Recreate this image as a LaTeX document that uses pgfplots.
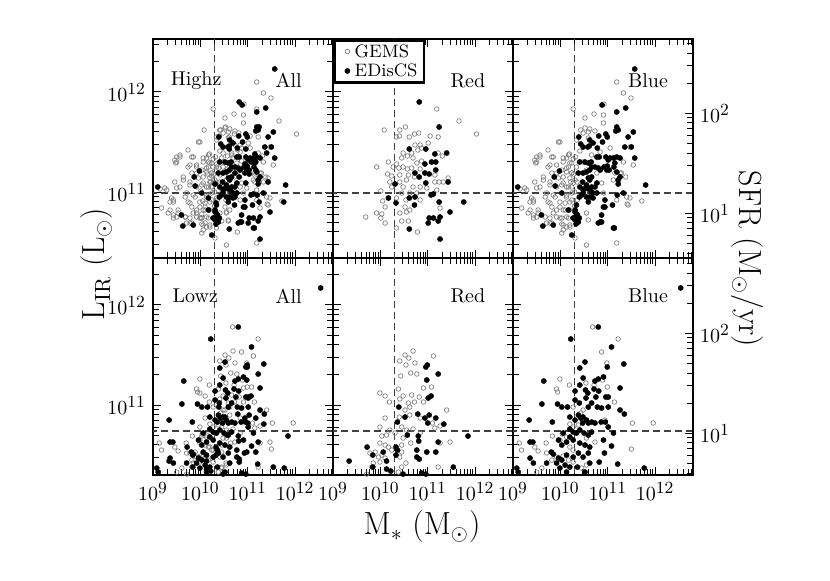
\documentclass[border=0pt]{standalone}
\usepackage{pgfplots}
\usepackage{pgfplotstable}
\pgfplotsset{compat=1.18}

% ---------- high-z, red ----------
\pgfplotstableread{
m l
10.82 11.90
11.24 11.65
10.61 11.43
10.96 11.43
11.15 11.38
11.40 11.39
11.08 11.30
11.17 11.30
10.94 11.28
11.17 11.22
10.73 11.19
10.94 11.19
11.03 11.18
10.82 11.15
11.43 11.10
10.96 11.09
10.31 11.08
11.07 10.97
11.12 10.98
10.17 10.94
10.73 10.95
10.61 10.94
11.76 10.90
11.24 10.90
10.72 10.87
11.47 10.80
11.03 10.74
11.12 10.74
11.26 10.75
11.01 10.69
11.22 10.71
10.61 10.63
11.26 10.53
10.33 10.89
}\hrE
\pgfplotstableread{
m l
11.19 11.83
11.66 11.71
12.03 11.58
10.08 11.62
10.41 11.62
10.53 11.65
10.34 11.55
10.40 11.56
10.61 11.55
10.72 11.58
10.81 11.59
11.05 11.56
11.22 11.55
10.73 11.47
10.84 11.47
11.01 11.49
10.48 11.39
10.57 11.36
10.66 11.39
10.79 11.42
10.87 11.44
11.22 11.39
11.31 11.36
10.45 11.34
10.69 11.34
10.77 11.29
10.87 11.31
9.92 11.25
10.17 11.30
10.27 11.25
10.34 11.28
10.39 11.24
10.48 11.25
10.57 11.23
10.66 11.24
10.84 11.23
11.15 11.17
10.15 11.18
10.24 11.16
10.41 11.17
10.59 11.17
10.72 11.15
10.55 11.12
10.20 11.10
10.41 11.10
11.15 11.10
11.24 11.10
11.33 11.10
11.43 11.14
10.24 11.05
10.48 11.05
10.69 11.05
10.84 11.05
10.98 11.04
10.01 11.01
10.45 10.99
10.62 10.99
10.77 10.99
11.19 11.02
10.05 10.91
10.34 10.94
10.54 10.92
10.84 10.92
10.10 10.85
10.52 10.85
10.62 10.82
11.26 10.84
9.92 10.79
10.03 10.78
10.41 10.79
10.55 10.80
9.69 10.75
10.01 10.74
10.45 10.71
10.59 10.71
10.10 10.69
10.34 10.64
10.78 10.60
}\hrG
% ---------- high-z, blue ----------
\pgfplotstableread{
m l
11.57 12.23
10.88 11.87
11.19 11.80
11.38 11.84
10.39 11.55
10.62 11.52
10.81 11.56
10.96 11.58
10.99 11.55
11.19 11.65
11.22 11.62
11.17 11.61
11.43 11.55
11.54 11.60
10.43 11.48
10.58 11.45
10.69 11.49
10.78 11.44
10.89 11.50
11.36 11.45
11.50 11.45
10.82 11.35
10.96 11.35
11.05 11.34
11.19 11.35
11.26 11.34
11.57 11.34
10.52 11.30
10.59 11.29
10.65 11.30
10.73 11.25
10.62 11.22
10.48 11.19
10.84 11.22
10.92 11.25
10.99 11.26
11.03 11.22
11.13 11.25
11.19 11.20
10.38 11.19
9.98 11.21
9.87 11.15
10.59 11.14
10.66 11.15
11.26 11.15
10.47 11.10
10.55 11.07
10.41 11.05
10.50 11.03
10.59 11.03
10.66 11.05
10.73 11.05
10.48 10.99
10.55 10.95
10.62 10.95
10.69 10.99
10.40 10.95
10.03 10.99
11.22 11.08
11.20 10.97
11.80 11.07
10.94 10.92
11.10 10.87
10.94 10.85
10.59 10.90
10.31 10.82
10.36 10.77
10.40 10.74
10.31 10.72
10.38 10.70
10.87 10.77
10.80 10.69
10.87 10.70
9.63 10.66
9.85 10.67
10.24 10.57
11.14 10.64
9.60 10.77
9.89 11.06
9.10 11.05
10.48 11.45
10.61 11.46
10.41 11.30
10.66 11.25
10.55 11.20
10.80 11.24
10.98 11.22
10.77 11.35
11.01 11.32
11.12 11.34
10.62 11.12
10.77 11.09
10.48 11.02
10.66 11.00
10.45 10.97
10.69 10.94
10.77 10.99
10.34 10.87
10.31 10.80
10.34 10.75
10.27 10.74
10.91 10.85
10.84 10.70
11.12 10.64
11.33 10.99
11.22 11.12
11.15 11.29
10.17 10.82
10.34 10.78
10.33 10.68
}\hbE
\pgfplotstableread{
m l
11.19 12.10
11.33 11.99
11.49 11.94
10.92 11.88
10.71 11.78
10.27 11.83
10.91 11.69
10.52 11.64
10.62 11.63
10.73 11.61
10.43 11.62
9.99 11.50
10.34 11.52
10.59 11.54
11.47 11.45
9.74 11.42
9.85 11.35
10.19 11.38
10.41 11.41
9.57 11.35
9.46 11.32
10.27 11.33
10.06 11.30
10.13 11.34
9.92 11.27
9.74 11.25
10.17 11.25
10.24 11.29
10.34 11.25
11.33 11.30
11.54 11.27
10.03 11.22
10.13 11.20
10.24 11.19
9.82 11.19
9.64 11.15
9.96 11.14
10.06 11.15
10.20 11.14
10.31 11.12
9.46 11.10
11.26 11.19
11.38 11.15
9.57 11.05
9.78 11.07
9.92 11.05
10.03 11.07
10.13 11.05
10.24 11.05
9.25 11.04
9.15 11.03
9.39 10.94
9.36 10.90
9.68 10.95
9.85 10.97
10.13 10.97
10.24 10.99
9.74 10.90
9.99 10.90
10.10 10.89
10.20 10.90
9.82 10.85
9.92 10.82
10.06 10.82
10.19 10.82
9.53 10.79
9.43 10.77
9.68 10.75
9.78 10.74
9.92 10.75
10.03 10.74
10.13 10.75
9.71 10.69
9.82 10.69
10.03 10.68
10.13 10.65
10.20 10.67
10.55 10.79
10.59 10.72
11.40 10.95
11.41 10.88
11.72 10.91
11.19 10.92
10.91 10.99
10.87 11.09
11.12 11.12
10.77 11.19
10.55 11.22
10.48 11.30
10.66 11.37
10.84 11.40
11.05 11.44
10.52 11.74
10.91 11.77
11.19 10.49
10.55 10.47
10.31 10.54
10.06 10.62
9.50 11.35
9.48 11.29
9.29 11.02
9.43 10.92
9.18 10.84
9.32 10.79
9.50 10.75
10.30 11.00
10.35 11.10
10.28 11.18
10.36 10.92
10.22 11.10
10.32 11.35
10.40 11.30
10.30 10.86
9.50 11.30
9.57 11.37
9.82 11.35
9.96 11.50
9.78 11.27
10.06 11.34
10.17 11.37
10.20 11.29
10.13 11.24
10.24 11.19
9.92 11.19
9.64 11.12
9.78 11.10
10.06 11.09
10.17 11.05
10.27 11.09
9.50 11.04
9.71 10.99
9.89 10.95
10.13 10.95
10.24 10.92
9.43 10.90
9.78 10.89
9.99 10.85
10.10 10.82
9.36 10.82
9.53 10.82
9.85 10.79
9.99 10.74
10.17 10.74
9.43 10.74
9.78 10.69
10.06 10.67
10.20 10.65
10.03 10.59
11.15 11.19
11.29 11.19
11.47 10.94
11.43 10.87
10.48 11.59
10.59 11.60
}\hbG
% ---------- low-z, red ----------
\pgfplotstableread{
m l
10.96 11.38
10.99 11.40
10.98 11.25
11.22 11.31
11.07 11.09
11.01 11.07
10.39 10.98
10.52 10.88
10.79 10.91
10.94 10.87
11.03 10.90
11.17 10.87
11.34 10.81
10.36 10.83
11.00 10.82
10.57 10.70
10.80 10.69
11.85 10.69
10.81 10.64
11.22 10.63
9.72 10.58
9.84 10.50
10.06 10.53
10.33 10.58
10.36 10.55
10.33 10.50
10.77 10.55
10.98 10.53
11.17 10.53
10.77 10.48
10.82 10.46
9.34 10.44
10.13 10.44
9.84 10.38
10.13 10.36
10.22 10.34
10.48 10.31
10.87 10.32
10.96 10.31
11.54 10.38
}\lrE
\pgfplotstableread{
m l
10.69 11.54
10.52 11.50
10.60 11.47
10.41 11.44
10.73 11.42
11.12 11.49
10.54 11.40
10.43 11.29
10.64 11.32
10.77 11.31
10.91 11.17
11.08 11.18
10.38 11.16
9.99 11.12
10.10 11.09
10.19 11.03
10.48 11.09
10.66 11.10
10.82 11.08
10.41 11.06
10.59 11.02
10.72 11.03
10.91 11.03
10.62 10.98
10.52 10.95
11.40 10.95
10.10 10.87
10.40 10.88
10.62 10.90
10.84 10.87
11.10 10.82
11.26 10.79
11.15 10.77
9.99 10.78
10.20 10.75
10.31 10.72
10.45 10.78
10.55 10.75
10.69 10.76
10.84 10.72
10.03 10.69
10.13 10.70
10.48 10.67
11.26 10.62
11.47 10.63
9.99 10.62
10.10 10.60
10.17 10.58
10.24 10.55
10.45 10.60
10.64 10.62
9.78 10.52
9.89 10.53
9.96 10.48
10.03 10.50
10.10 10.47
9.99 10.43
10.45 10.53
10.41 10.48
10.54 10.42
10.45 10.38
9.85 10.42
11.22 10.38
10.38 10.33
9.71 10.31
9.82 10.38
}\lrG
% ---------- low-z, blue ----------
\pgfplotstableread{
m l
12.54 12.17
10.80 11.78
10.22 11.66
11.08 11.58
11.34 11.41
10.52 11.43
10.41 11.37
10.99 11.38
9.65 11.24
10.48 11.27
10.73 11.24
10.80 11.26
10.91 11.28
10.41 11.20
10.53 11.15
10.31 11.14
10.58 11.12
10.71 11.16
10.81 11.14
11.26 11.17
10.96 11.08
11.01 11.08
9.61 11.01
9.94 11.01
10.03 10.98
10.15 10.98
10.31 11.05
10.40 11.02
10.54 11.07
10.59 10.98
10.66 11.02
10.78 10.98
10.87 10.97
11.01 10.98
11.26 10.95
11.35 10.91
9.34 10.85
9.83 10.83
10.20 10.88
10.31 10.85
10.38 10.90
10.43 10.87
10.48 10.88
10.55 10.85
10.47 10.82
10.59 10.82
10.66 10.83
10.73 10.82
10.86 10.83
11.01 10.78
11.12 10.72
10.20 10.76
10.27 10.73
10.34 10.72
10.41 10.75
10.50 10.72
10.59 10.70
10.66 10.73
10.06 10.72
10.20 10.68
10.27 10.65
10.13 10.63
10.03 10.60
9.96 10.65
9.36 10.63
9.42 10.63
10.41 10.62
10.52 10.60
10.62 10.58
10.91 10.65
11.08 10.59
10.93 10.52
9.81 10.53
9.85 10.51
9.96 10.47
10.03 10.45
10.13 10.50
10.27 10.48
10.38 10.52
10.48 10.48
10.59 10.52
9.36 10.47
9.43 10.42
9.71 10.42
9.92 10.42
10.10 10.40
10.20 10.38
10.36 10.38
10.52 10.33
10.62 10.42
10.82 10.43
9.99 10.37
10.13 10.33
11.21 10.41
11.77 10.37
10.95 10.83
10.75 11.08
9.08 10.37
9.11 10.33
}\lbE
\pgfplotstableread{
m l
10.68 11.78
11.22 11.66
10.87 11.53
10.98 11.42
9.99 11.26
9.92 11.16
9.94 11.13
10.19 11.20
10.54 11.22
10.71 11.20
10.99 11.18
10.89 11.25
11.14 11.03
10.27 10.98
10.48 10.95
10.43 10.92
10.94 10.85
11.52 10.82
11.96 10.82
10.20 10.81
10.27 10.78
10.38 10.80
9.83 10.69
10.04 10.71
10.13 10.68
9.70 10.62
9.99 10.65
10.55 10.67
10.73 10.63
9.46 10.58
9.53 10.54
9.71 10.52
10.20 10.58
10.27 10.55
11.50 10.56
9.92 10.48
10.06 10.49
9.82 10.45
10.17 10.45
10.27 10.43
9.50 10.33
9.61 10.37
10.45 10.37
10.55 10.40
9.13 10.62
9.18 10.55
}\lbG

\newcommand{\tl}[1]{$10^{\mbox{\fontsize{8.5}{9}\selectfont #1}}$}
\pgfplotsset{
  mypanel/.style={
    scale only axis, width=90pt,
    xmin=1e9, xmax=6.31e12,
    xtick={1e9,1e10,1e11,1e12},
    xticklabels={\tl{9},\tl{10},\tl{11},\tl{12}},
    minor xtick={2e9,3e9,4e9,5e9,6e9,7e9,8e9,9e9,
      2e10,3e10,4e10,5e10,6e10,7e10,8e10,9e10,
      2e11,3e11,4e11,5e11,6e11,7e11,8e11,9e11,
      2e12,3e12,4e12,5e12,6e12},
    ytick={1e11,1e12},
    yticklabels={\tl{11},\tl{12}},
    tick align=inside, major tick length=4pt, minor tick length=3pt,
    every tick/.style={black, line width=0.5pt},
    axis line style={line width=0.8pt},
    xtick pos=both, ytick pos=both,
  },
  mytop/.style={height=109.5pt, ymin=2.19e10, ymax=3.39e12,
    minor ytick={3e10,4e10,5e10,6e10,7e10,8e10,9e10,
      2e11,3e11,4e11,5e11,6e11,7e11,8e11,9e11,2e12,3e12}},
  mybot/.style={height=108.5pt, ymin=2.0e10, ymax=2.95e12,
    minor ytick={3e10,4e10,5e10,6e10,7e10,8e10,9e10,
      2e11,3e11,4e11,5e11,6e11,7e11,8e11,9e11,2e12}},
  mysfr/.style={
    scale only axis, width=90pt, xmin=0, xmax=1,
    hide x axis, axis y line*=right,
    ytick={10,100}, yticklabels={\tl{1},\tl{2}},
    minor ytick={4,5,6,7,8,9,20,30,40,50,60,70,80,90,200,300,400,500},
    tick align=inside, major tick length=4pt, minor tick length=3pt,
    every tick/.style={black, line width=0.5pt},
    axis line style={line width=0.8pt},
  },
  mygems/.style={only marks, mark=o, mark size=1.15pt,
    mark options={draw=black!50, line width=0.35pt}},
  myedis/.style={only marks, mark=*, mark size=1.3pt,
    mark options={draw=black, fill=black, line width=0.2pt}},
  mydash/.style={black!75, line width=0.65pt, dash pattern=on 3.5pt off 2pt, forget plot},
}
\newcommand{\pts}[2]{\addplot[#1] table[x expr=10^\thisrow{m}, y expr=10^\thisrow{l}] {#2};}
\newcommand{\toplines}{%
  \addplot[mydash] coordinates {(2e10,1e9) (2e10,1e14)};
  \addplot[mydash] coordinates {(1e8,9.8e10) (1e14,9.8e10)};}
\newcommand{\botlines}{%
  \addplot[mydash] coordinates {(2e10,1e9) (2e10,1e14)};
  \addplot[mydash] coordinates {(1e8,5.5e10) (1e14,5.5e10)};}

\begin{document}
\begin{tikzpicture}
% ----- top row -----
\begin{axis}[xmode=log, ymode=log, mypanel, mytop, at={(76.5pt,161.5pt)}, anchor=south west, xticklabels={}]
\pts{mygems}{\hrG}\pts{mygems}{\hbG}\pts{myedis}{\hrE}\pts{myedis}{\hbE}
\toplines
\node[anchor=west] at (rel axis cs:0.06,0.81) {Highz};
\node[anchor=east] at (rel axis cs:0.865,0.81) {All};
\end{axis}
\begin{axis}[xmode=log, ymode=log, mypanel, mytop, at={(166.5pt,161.5pt)}, anchor=south west, xticklabels={}, yticklabels={},
  legend style={at={(0,1)}, anchor=north west, draw=black, line width=1.3pt,
    inner xsep=2.2pt, inner ysep=1.6pt, row sep=1.6pt, cells={anchor=west},
    font=\fontsize{9}{10}\selectfont,
    nodes={inner xsep=1pt, inner ysep=0.8pt, text height=6.2pt, text depth=0.3pt}},
  legend image code/.code={\path (0cm,0cm) (0.2cm,0cm); \draw[#1] plot coordinates {(0.13cm,0cm)};}]
\pts{mygems}{\hrG}\addlegendentry{GEMS}
\pts{myedis}{\hrE}\addlegendentry{EDisCS}
\toplines
\node[anchor=east] at (rel axis cs:0.885,0.81) {Red};
\end{axis}
\begin{axis}[xmode=log, ymode=log, mypanel, mytop, at={(256.5pt,161.5pt)}, anchor=south west, xticklabels={}, yticklabels={}, ytick pos=left]
\pts{mygems}{\hbG}\pts{myedis}{\hbE}
\toplines
\node[anchor=east] at (rel axis cs:0.9,0.81) {Blue};
\end{axis}
\begin{axis}[ymode=log, mysfr, height=109.5pt, ymin=3.57, ymax=553, at={(256.5pt,161.5pt)}, anchor=south west]
\end{axis}
% ----- bottom row -----
\begin{axis}[xmode=log, ymode=log, mypanel, mybot, at={(76.5pt,53pt)}, anchor=south west]
\pts{mygems}{\lrG}\pts{mygems}{\lbG}\pts{myedis}{\lrE}\pts{myedis}{\lbE}
\botlines
\node[anchor=west] at (rel axis cs:0.07,0.825) {Lowz};
\node[anchor=east] at (rel axis cs:0.865,0.825) {All};
\end{axis}
\begin{axis}[xmode=log, ymode=log, mypanel, mybot, at={(166.5pt,53pt)}, anchor=south west, yticklabels={}]
\pts{mygems}{\lrG}\pts{myedis}{\lrE}
\botlines
\node[anchor=east] at (rel axis cs:0.885,0.825) {Red};
\end{axis}
\begin{axis}[xmode=log, ymode=log, mypanel, mybot, at={(256.5pt,53pt)}, anchor=south west, yticklabels={}, ytick pos=left]
\pts{mygems}{\lbG}\pts{myedis}{\lbE}
\botlines
\node[anchor=east] at (rel axis cs:0.9,0.825) {Blue};
\end{axis}
\begin{axis}[ymode=log, mysfr, height=108.5pt, ymin=3.83, ymax=566, at={(256.5pt,53pt)}, anchor=south west]
\end{axis}
% ----- axis titles -----
\node[rotate=90, font=\fontsize{16}{19}\selectfont] at (48.5pt,158.5pt) {L$_{\rm IR}$ (L$_\odot$)};
\node[rotate=-90, font=\fontsize{16}{19}\selectfont] at (373.5pt,161pt) {SFR (M$_\odot$/yr)};
\node[font=\fontsize{16}{19}\selectfont] at (211pt,27pt) {M$_*$ (M$_\odot$)};
\pgfresetboundingbox
\path[use as bounding box] (0pt,0pt) rectangle (415pt,290.5pt);
\end{tikzpicture}
\end{document}
